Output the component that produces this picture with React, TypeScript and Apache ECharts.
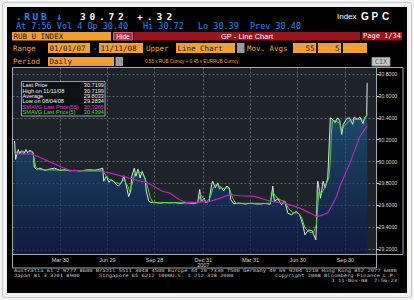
import React, { useEffect, useRef } from 'react';
import * as echarts from 'echarts';

// ---------- data ----------
const priceData: [string, number][] = [
  ['2007-01-01', 30.19], ['2007-01-03', 30.02], ['2007-01-05', 30.06], ['2007-01-08', 30.11],
  ['2007-01-11', 30.07], ['2007-01-15', 30.10], ['2007-01-19', 30.07], ['2007-01-23', 30.11],
  ['2007-01-26', 30.08], ['2007-01-31', 30.105], ['2007-02-02', 30.09], ['2007-02-06', 30.08],
  ['2007-02-08', 29.95], ['2007-02-12', 29.93], ['2007-02-19', 29.94], ['2007-02-28', 29.92],
  ['2007-03-09', 29.93], ['2007-03-19', 29.94], ['2007-03-29', 29.92], ['2007-04-09', 29.925],
  ['2007-04-17', 29.915], ['2007-04-27', 29.92], ['2007-05-07', 29.913], ['2007-05-16', 29.92],
  ['2007-05-25', 29.925], ['2007-06-05', 29.92], ['2007-06-14', 29.93], ['2007-06-20', 29.94],
  ['2007-06-22', 29.82], ['2007-06-27', 29.865], ['2007-07-02', 29.81], ['2007-07-06', 29.835],
  ['2007-07-11', 29.82], ['2007-07-16', 29.79], ['2007-07-20', 29.775], ['2007-07-26', 29.805],
  ['2007-07-31', 29.87], ['2007-08-06', 29.745], ['2007-08-09', 29.68], ['2007-08-13', 29.73],
  ['2007-08-15', 29.865], ['2007-08-20', 29.94], ['2007-08-23', 29.865], ['2007-08-27', 29.93],
  ['2007-08-31', 29.85], ['2007-09-04', 29.91], ['2007-09-10', 29.835], ['2007-09-12', 29.73],
  ['2007-09-17', 29.635], ['2007-09-21', 29.626], ['2007-09-28', 29.628], ['2007-10-08', 29.62],
  ['2007-10-18', 29.626], ['2007-10-26', 29.622], ['2007-11-06', 29.625], ['2007-11-16', 29.618],
  ['2007-11-26', 29.624], ['2007-12-05', 29.62], ['2007-12-14', 29.617], ['2007-12-20', 29.625],
  ['2007-12-24', 29.745], ['2007-12-27', 29.635], ['2008-01-02', 29.665], ['2008-01-04', 29.626],
  ['2008-01-11', 29.635], ['2008-01-16', 29.79], ['2008-01-18', 29.82], ['2008-01-23', 29.76],
  ['2008-01-28', 29.805], ['2008-01-31', 29.75], ['2008-02-04', 29.765], ['2008-02-08', 29.73],
  ['2008-02-14', 29.775], ['2008-02-19', 29.76], ['2008-02-22', 29.65], ['2008-02-28', 29.614],
  ['2008-03-10', 29.62], ['2008-03-20', 29.612], ['2008-03-31', 29.618], ['2008-04-08', 29.614],
  ['2008-04-18', 29.612], ['2008-04-28', 29.617], ['2008-05-08', 29.61], ['2008-05-13', 29.775],
  ['2008-05-16', 29.635], ['2008-05-23', 29.66], ['2008-05-30', 29.605], ['2008-06-05', 29.64],
  ['2008-06-11', 29.528], ['2008-06-18', 29.513], ['2008-06-27', 29.543], ['2008-07-04', 29.513],
  ['2008-07-10', 29.42], ['2008-07-14', 29.33], ['2008-07-21', 29.375], ['2008-07-28', 29.366],
  ['2008-07-31', 29.33], ['2008-08-04', 29.2834], ['2008-08-05', 29.39], ['2008-08-07', 29.79],
  ['2008-08-08', 29.82], ['2008-08-13', 29.665], ['2008-08-18', 29.82], ['2008-08-22', 29.76],
  ['2008-08-27', 29.85], ['2008-09-01', 30.40], ['2008-09-05', 30.386], ['2008-09-10', 30.356],
  ['2008-09-15', 30.40], ['2008-09-19', 30.377], ['2008-09-23', 30.248], ['2008-09-26', 30.34],
  ['2008-10-03', 30.395], ['2008-10-08', 30.40], ['2008-10-14', 30.34], ['2008-10-17', 30.407],
  ['2008-10-23', 30.386], ['2008-10-28', 30.407], ['2008-11-03', 30.347], ['2008-11-06', 30.40],
  ['2008-11-10', 30.42], ['2008-11-11', 30.7199],
];

const sma5Data: [string, number][] = [
  ['2007-01-01', 30.083], ['2007-01-11', 30.092], ['2007-02-05', 30.092], ['2007-02-11', 29.945],
  ['2007-02-19', 29.926], ['2007-03-29', 29.922], ['2007-05-07', 29.917], ['2007-06-20', 29.922],
  ['2007-06-26', 29.871], ['2007-07-04', 29.834], ['2007-07-15', 29.807], ['2007-07-23', 29.798],
  ['2007-07-31', 29.834], ['2007-08-08', 29.77], ['2007-08-11', 29.724], ['2007-08-17', 29.816],
  ['2007-08-21', 29.89], ['2007-08-27', 29.908], ['2007-09-02', 29.899], ['2007-09-08', 29.871],
  ['2007-09-14', 29.779], ['2007-09-20', 29.669], ['2007-09-25', 29.623], ['2007-11-06', 29.623],
  ['2007-12-20', 29.623], ['2007-12-26', 29.697], ['2008-01-02', 29.651], ['2008-01-07', 29.632],
  ['2008-01-13', 29.669], ['2008-01-19', 29.761], ['2008-01-24', 29.789], ['2008-01-30', 29.779],
  ['2008-02-07', 29.752], ['2008-02-15', 29.761], ['2008-02-20', 29.743], ['2008-02-26', 29.66],
  ['2008-03-03', 29.618], ['2008-05-08', 29.618], ['2008-05-13', 29.724], ['2008-05-19', 29.678],
  ['2008-05-27', 29.651], ['2008-06-05', 29.632], ['2008-06-13', 29.568], ['2008-06-21', 29.531],
  ['2008-07-01', 29.531], ['2008-07-08', 29.485], ['2008-07-14', 29.393], ['2008-07-22', 29.356],
  ['2008-07-30', 29.347], ['2008-08-05', 29.421], ['2008-08-10', 29.724], ['2008-08-16', 29.715],
  ['2008-08-22', 29.77], ['2008-08-29', 29.85], ['2008-09-01', 30.0], ['2008-09-03', 30.25],
  ['2008-09-05', 30.37], ['2008-09-10', 30.377], ['2008-09-19', 30.349], ['2008-09-23', 30.294],
  ['2008-09-29', 30.331], ['2008-10-09', 30.377], ['2008-10-17', 30.386], ['2008-10-28', 30.386],
  ['2008-11-05', 30.377], ['2008-11-11', 30.4394],
];

const sma55Data: [string, number][] = [
  ['2007-01-01', 30.069], ['2007-02-02', 30.07], ['2007-02-18', 30.04], ['2007-03-10', 29.997],
  ['2007-03-29', 29.957], ['2007-04-17', 29.92], ['2007-05-16', 29.913], ['2007-06-14', 29.911],
  ['2007-07-03', 29.896], ['2007-07-29', 29.865], ['2007-08-21', 29.834], ['2007-09-15', 29.804],
  ['2007-10-14', 29.727], ['2007-10-27', 29.712], ['2007-11-15', 29.651], ['2007-11-29', 29.626],
  ['2007-12-18', 29.626], ['2008-01-12', 29.635], ['2008-02-01', 29.666], ['2008-02-20', 29.697],
  ['2008-03-10', 29.687], ['2008-04-08', 29.681], ['2008-05-08', 29.637], ['2008-06-05', 29.62],
  ['2008-07-04', 29.574], ['2008-07-23', 29.531], ['2008-08-06', 29.497], ['2008-08-18', 29.513],
  ['2008-08-27', 29.531], ['2008-09-03', 29.589], ['2008-09-13', 29.68], ['2008-09-19', 29.77],
  ['2008-10-09', 29.99], ['2008-10-28', 30.23], ['2008-11-11', 30.3265],
];

const tickDates = ['2007-03-30', '2007-06-29', '2007-09-28', '2007-12-31', '2008-03-31', '2008-06-30', '2008-09-30'];
const tickLabels = ['Mar 30', 'Jun 29', 'Sep 28', 'Dec 31\n2007', 'Mar 31', 'Jun 30', 'Sep 30'];
const yTicks = [29.2, 29.4, 29.6, 29.8, 30.0, 30.2, 30.4, 30.6, 30.8];
const axisStart = '2006-12-28';
const axisEnd = '2008-11-29';
const yMin = 29.15;
const yMax = 30.86;

const statLabels = ['Last Price', 'High on 11/11/08', 'Average', 'Low on 08/04/08', 'SMAVG Last Price(55)', 'SMAVG Last Price(5)'];
const statValues = ['30.7199', '30.7199', '29.8033', '29.2834', '30.3265', '30.4394'];

const tickerText = '.RUB';
const lastText = '30.72';
const changeText = '+.32';
const quoteParts: [string, number][] = [['At 7:56 Vol 4 Op 30.40', 16], ['Hi 30.72', 143], ['Lo 30.39', 198], ['Prev 30.40', 250]];
const footerLine1 = 'Australia 61 2 9777 8600 Brazil 5511 3048 4500 Europe 44 20 7330 7500 Germany 49 69 9204 1210 Hong Kong 852 2977 6000';
const footerLine2: [string, number][] = [['Japan 81 3 3201 8900', 14], ['Singapore 65 6212 1000', 99], ['U.S. 1 212 318 2000', 171], ['Copyright 2008 Bloomberg Finance L.P.', 275]];
const footerLine3 = '1 11-Nov-08  7:56:23';

// ---------- helpers ----------
const MONO = '"DejaVu Sans Mono", monospace';
const SANS = '"Liberation Sans", Arial, sans-serif';
const AMBER = '#f0a030';
const BLUE = '#2f86f0';
const GREEN = '#3ad83a';
const MAGENTA = '#c026c0';

function ts(s: string) {
  const [y, m, d] = s.split('-').map(Number);
  return new Date(y, m - 1, d).getTime();
}
const toPts = (a: [string, number][]) => a.map(([d, v]) => [ts(d), v]);

type O = { fill?: string; size?: number; family?: string; weight?: string; align?: string; sx?: number };
function txt(text: string, x: number, y: number, o: O = {}) {
  const align = o.align || 'left';
  return {
    type: 'text', x, y, z: 100, silent: true, scaleX: o.sx || 1,
    style: {
      text, fill: o.fill || '#fff', fontSize: o.size || 7, fontFamily: o.family || MONO,
      fontWeight: o.weight || 'normal', align, textAlign: align, verticalAlign: 'middle', textVerticalAlign: 'middle',
    },
  };
}
function spaced(text: string, x: number, y: number, step: number, o: O) {
  const out: any[] = [];
  text.split('').forEach((c, i) => { if (c !== ' ') out.push(txt(c, x + i * step, y, o)); });
  return out;
}
function box(x: number, y: number, w: number, h: number, fill: string, stroke?: string) {
  return { type: 'rect', z: 99, silent: true, shape: { x, y, width: w, height: h }, style: { fill, stroke: stroke || 'none', lineWidth: stroke ? 1 : 0 } };
}

export default function App() {
  const ref = useRef<HTMLDivElement>(null);
  useEffect(() => {
    document.body.style.margin = '0';
    if (!ref.current) return;
    const chart = echarts.init(ref.current, null, { renderer: 'svg' });
    const tickTs = tickDates.map(ts);
    const last = (a: [string, number][]) => a[a.length - 1][1];

    const g: any[] = [];
    // header line 1
    g.push(...spaced(tickerText, 16, 16, 8.3, { fill: BLUE, size: 9.5, weight: 'bold' }));
    g.push(txt('↓', 56, 16, { fill: BLUE, size: 10, weight: 'bold' }));
    g.push(...spaced(lastText, 80, 16, 9.5, { size: 9.5, weight: 'bold' }));
    g.push(...spaced(changeText, 137, 16, 9.8, { size: 9.5, weight: 'bold' }));
    g.push(txt('Index', 337, 16, { size: 8, family: SANS }));
    g.push(...spaced('GPC', 361, 16, 10.5, { size: 10, weight: 'bold', family: SANS }));
    // header line 2
    quoteParts.forEach(([t, x]) => g.push(...spaced(t, x, 26, 5.1, { fill: BLUE, size: 8.5 })));
    // row 3
    g.push(box(12, 32, 99, 8.5, AMBER));
    g.push(txt('RUB U INDEX', 13.5, 36.4, { fill: '#2a1800', size: 7.5 }));
    g.push(box(113.5, 32.5, 19, 7.5, '#b8283a', '#e06070'));
    g.push(txt('Hide', 123, 36.4, { size: 6.5, family: SANS, align: 'center' }));
    g.push(box(134, 32, 226, 8.5, '#9c1420'));
    g.push(txt('GP - Line Chart', 247, 36.4, { size: 7.5, family: SANS, align: 'center' }));
    g.push(box(362, 32, 40, 8.5, '#9c1420'));
    g.push(txt('Page 1/34', 382, 36.4, { size: 7, align: 'center' }));
    // row 4
    g.push(txt('Range', 13, 48, { fill: AMBER, size: 7.5 }));
    g.push(box(48, 43, 42, 10, AMBER));
    g.push(txt('01/01/07', 49.5, 48, { fill: '#2a1800', size: 7.5 }));
    g.push(txt('-', 92.5, 48, { fill: AMBER, size: 7.5 }));
    g.push(box(99, 43, 44, 10, AMBER));
    g.push(txt('11/11/08', 100.5, 48, { fill: '#2a1800', size: 7.5 }));
    g.push(txt('Upper', 146, 48, { fill: AMBER, size: 7.5 }));
    g.push(box(176, 43, 59, 10, AMBER));
    g.push(txt('Line Chart', 177.5, 48, { fill: '#2a1800', size: 7.5 }));
    g.push(box(237, 43, 7.5, 10, '#9a9a9a'));
    g.push(txt('Mov. Avgs', 247, 48, { fill: AMBER, size: 7.5 }));
    g.push(box(293, 43, 23, 10, AMBER));
    g.push(txt('55', 314.5, 48, { fill: '#2a1800', size: 7.5, align: 'right' }));
    g.push(box(318, 43, 23, 10, AMBER));
    g.push(txt('5', 339.5, 48, { fill: '#2a1800', size: 7.5, align: 'right' }));
    g.push(box(343, 43, 24, 10, AMBER));
    // row 5
    g.push(txt('Period', 13, 61, { fill: AMBER, size: 7.5 }));
    g.push(box(48, 57, 66, 9, AMBER));
    g.push(txt('Daily', 49.5, 61.5, { fill: '#2a1800', size: 7.5 }));
    g.push(box(115.5, 57, 7.5, 9, '#9a9a9a'));
    g.push(txt('0.55 x RUB Curncy + 0.45 x EURRUB Curncy', 145, 61, { fill: AMBER, size: 4.6, family: SANS }));
    g.push(box(372, 57.5, 18, 8.5, '#c8c8c8', '#8a8a8a'));
    g.push(txt('CIX', 381, 61.8, { fill: '#555', size: 7, align: 'center' }));
    // plot frame
    g.push({ type: 'rect', z: 98, silent: true, shape: { x: 12.5, y: 67.5, width: 390.5, height: 187 }, style: { fill: 'none', stroke: '#a4a9ae', lineWidth: 1 } });
    g.push({ type: 'rect', z: 98, silent: true, shape: { x: 12.5, y: 254.5, width: 364, height: 13.5 }, style: { fill: 'none', stroke: '#a4a9ae', lineWidth: 1 } });
    // stats legend
    g.push(box(21.5, 81.5, 83.5, 34.5, 'rgba(14,18,22,0.95)', '#9aa0a6'));
    statLabels.forEach((l, i) => {
      const col = i === 4 ? '#e034e0' : i === 5 ? '#38e038' : '#f0f0f0';
      const y = 85.4 + i * 5.3;
      g.push(txt(l, 22.5, y, { fill: col, size: 5.6, family: SANS }));
      g.push(txt(statValues[i], 104, y, { fill: col, size: 5.6, family: SANS, align: 'right' }));
    });
    // footer (tiny, horizontally stretched terminal font)
    const fo: O = { fill: '#c8c8c8', size: 4.4, sx: 1.24 };
    g.push(txt(footerLine1, 14, 270.6, fo));
    footerLine2.forEach(([t, x]) => g.push(txt(t, x, 275.5, fo)));
    g.push(txt(footerLine3, 397, 280.4, { ...fo, align: 'right' }));

    const tag = (value: number, bg: string, fg: string, dy = 0) => ({
      silent: true, symbol: ['none', 'none'], animation: false,
      lineStyle: { opacity: 0, width: 0 },
      label: {
        show: true, position: 'end', distance: 1.5, formatter: value.toFixed(4), backgroundColor: bg, color: fg,
        fontSize: 5.2, lineHeight: 5, fontFamily: SANS, padding: [0.5, 2, 0, 2], offset: [0, dy],
      },
      data: [{ yAxis: value }],
    });

    const option: any = {
      animation: false,
      backgroundColor: 'transparent',
      grid: {
        left: 12.5, top: 67.5, right: 37.5, bottom: 45.5, show: true,
        backgroundColor: '#1d2328', borderWidth: 0, containLabel: false, outerBoundsMode: 'none',
      },
      xAxis: {
        type: 'value', min: ts(axisStart), max: ts(axisEnd), scale: true,
        axisLine: { show: true, lineStyle: { color: '#a4a9ae', width: 1 } },
        axisTick: { show: false, customValues: tickTs },
        axisLabel: {
          customValues: tickTs, color: '#d8d8d8', fontSize: 5.5, fontFamily: SANS, margin: 2.5, lineHeight: 5.5,
          formatter: (v: number) => {
            const i = tickTs.findIndex((t) => Math.abs(t - v) < 43200000);
            return i >= 0 ? tickLabels[i] : '';
          },
        },
        splitLine: { show: true, lineStyle: { color: '#5c656e', width: 1, type: [2, 2] } },
      },
      yAxis: {
        type: 'value', position: 'right', min: yMin, max: yMax, scale: true,
        axisLine: { show: true, lineStyle: { color: '#a4a9ae', width: 1 } },
        axisTick: { show: true, customValues: yTicks, length: 3, lineStyle: { color: '#cfcfcf' } },
        axisLabel: {
          customValues: yTicks, color: '#d8d8d8', fontSize: 5.2, lineHeight: 5, fontFamily: SANS, margin: 2,
          formatter: (v: number) => v.toFixed(4),
        },
        splitLine: { show: true, lineStyle: { color: '#5c656e', width: 1, type: [2, 2] } },
      },
      series: [
        {
          type: 'line', data: toPts(priceData), symbol: 'none', showSymbol: false, z: 2,
          lineStyle: { color: '#e4e4e4', width: 1 },
          areaStyle: {
            origin: 'start',
            color: new echarts.graphic.LinearGradient(0, 0, 0, 1, [
              { offset: 0, color: 'rgba(36,124,172,0.86)' },
              { offset: 0.35, color: 'rgba(24,82,130,0.86)' },
              { offset: 1, color: 'rgba(8,20,78,0.9)' },
            ]),
          },
          markLine: tag(last(priceData), '#f4f4f4', '#000'),
        },
        {
          type: 'line', data: toPts(sma5Data), symbol: 'none', showSymbol: false, z: 3,
          lineStyle: { color: GREEN, width: 1 },
          markLine: tag(last(sma5Data), '#2ee02e', '#063006', -1.2),
        },
        {
          type: 'line', data: toPts(sma55Data), symbol: 'none', showSymbol: false, z: 4,
          lineStyle: { color: MAGENTA, width: 1.2 },
          markLine: tag(last(sma55Data), '#ee22ee', '#ffe0ff'),
        },
      ],
      graphic: g,
    };
    chart.setOption(option);
    return () => chart.dispose();
  }, []);

  return (
    <div style={{ position: 'relative', width: 414, height: 300, background: '#f3f3f3', overflow: 'hidden' }}>
      <div style={{ position: 'absolute', left: 2, top: 2, width: 408, height: 294, border: '1px solid #c9c9c9', borderRadius: 3 }} />
      <div style={{ position: 'absolute', left: 7, top: 7, width: 400, height: 286, background: '#000' }} />
      <div ref={ref} style={{ position: 'absolute', left: 0, top: 0, width: 414, height: 300 }} />
    </div>
  );
}
